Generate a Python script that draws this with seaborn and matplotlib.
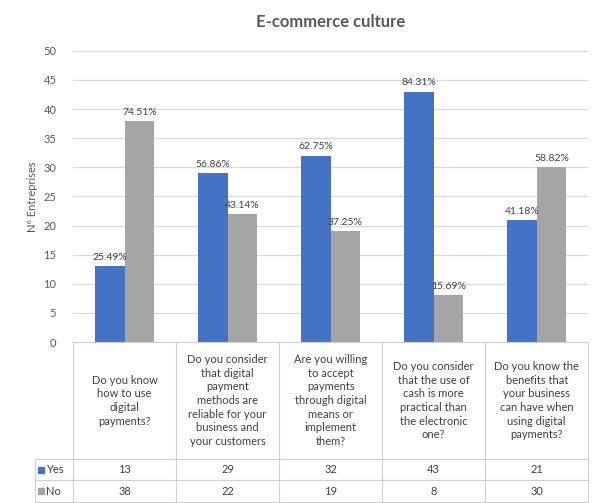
import numpy as np
import pandas as pd
import seaborn as sns
import matplotlib.pyplot as plt
from matplotlib.lines import Line2D

questions = [
    "Do you know\nhow to use\ndigital\npayments?",
    "Do you consider\nthat digital\npayment\nmethods are\nreliable for your\nbusiness and\nyour customers",
    "Are you willing\nto accept\npayments\nthrough digital\nmeans or\nimplement\nthem?",
    "Do you consider\nthat the use of\ncash is more\npractical than\nthe electronic\none?",
    "Do you know the\nbenefits that\nyour business\ncan have when\nusing digital\npayments?",
]
yes = [13, 29, 32, 43, 21]
no = [38, 22, 19, 8, 30]
answers = ["Yes", "No"]
colors = {"Yes": "#4472C4", "No": "#A5A5A5"}

df = pd.DataFrame({
    "question": questions * 2,
    "answer": ["Yes"] * len(yes) + ["No"] * len(no),
    "count": yes + no,
})
totals = np.array(yes) + np.array(no)

sns.set_style("white")
plt.rcParams['font.family'] = ['Lato', 'DejaVu Sans']
txt = "#595959"
dark = "#404040"

fig = plt.figure(figsize=(5.96, 5.03), dpi=100)
ax = fig.add_axes([0.1225, 0.32, 0.8645, 0.579])

sns.barplot(data=df, x="question", y="count", hue="answer", hue_order=answers,
            palette=colors, width=0.575, saturation=1, linewidth=0, ax=ax, legend=False)

# percentage labels
for cont, name in zip(ax.containers, answers):
    vals = yes if name == "Yes" else no
    labels = [f"{v / t * 100:.2f}%" for v, t in zip(vals, totals)]
    ax.bar_label(cont, labels=labels, padding=3, fontsize=7.5, color=dark)

ax.set_ylim(0, 50)
ax.set_xlim(-0.5, len(questions) - 0.5)
ax.set_yticks(range(0, 51, 5))
ax.yaxis.grid(True, color="#D9D9D9", linewidth=0.8)
ax.set_axisbelow(True)
ax.tick_params(axis="y", length=0, labelsize=8, labelcolor=txt, pad=12)
ax.set_xticks([])
ax.set_xlabel("")
ax.set_ylabel("Nº Entreprises", fontsize=8, color=txt, labelpad=4)
for s in ["top", "right", "left", "bottom"]:
    ax.spines[s].set_visible(False)
ax.set_title("E-commerce culture", fontsize=12, fontweight="bold", color=txt, pad=17)

# data table under the chart
lc = "#D0D0D0"
y_head, y_yes, y_no = -0.402, -0.474, -0.55
x_leg = -0.074
n = len(questions)
def line(xs, ys):
    ax.add_line(Line2D(xs, ys, transform=ax.transAxes, color=lc, lw=0.8, clip_on=False))
for i in range(n + 1):
    line([i / n, i / n], [0, y_no])
line([0, 1], [0, 0])
line([x_leg, x_leg], [y_head, y_no])
for yy in [y_head, y_yes, y_no]:
    line([x_leg, 1], [yy, yy])

trans = ax.get_xaxis_transform()
for i, q in enumerate(questions):
    ax.text(i, y_head / 2, q, transform=trans, ha="center", va="center",
            fontsize=8, color=dark, linespacing=1.3, clip_on=False)
    ax.text(i, (y_head + y_yes) / 2, str(yes[i]), transform=trans, ha="center",
            va="center", fontsize=8, color=dark, clip_on=False)
    ax.text(i, (y_yes + y_no) / 2, str(no[i]), transform=trans, ha="center",
            va="center", fontsize=8, color=dark, clip_on=False)

for name, (y0, y1) in zip(answers, [(y_head, y_yes), (y_yes, y_no)]):
    ym = (y0 + y1) / 2
    ax.plot([x_leg + 0.012], [ym], marker="s", markersize=4.5, color=colors[name],
            transform=ax.transAxes, clip_on=False)
    ax.text(x_leg + 0.022, ym, name, transform=ax.transAxes, ha="left", va="center",
            fontsize=8, color=dark, clip_on=False)

fig.savefig("out.png", dpi=100)
